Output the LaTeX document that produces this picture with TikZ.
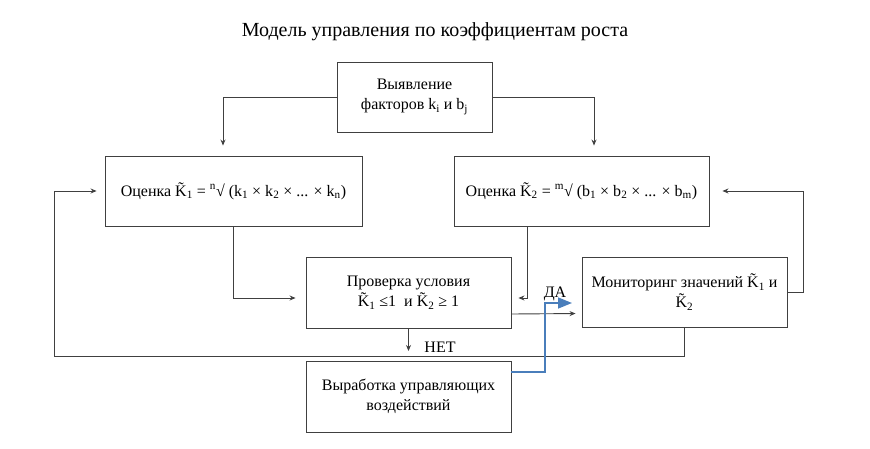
\documentclass[tikz,border=0pt]{standalone}
\usepackage{fontspec}
\setmainfont{Liberation Serif}
\usetikzlibrary{arrows.meta,calc}
\newcommand{\sbs}[1]{\textsubscript{#1}}
\newcommand{\sps}[1]{\textsuperscript{#1}}
\newcommand{\Kt}{\accent"02DC K}
\definecolor{lineclr}{HTML}{404040}
\definecolor{blueclr}{HTML}{4A7EBB}
\tikzset{
  box/.style={draw=lineclr, line width=0.9pt, inner sep=0pt, align=center, font=\fontsize{16}{20}\selectfont},
  conn/.style={draw=lineclr, line width=0.9pt, -{Stealth[length=6pt,width=5pt]}},
  lbl/.style={font=\fontsize{16}{18}\selectfont, inner sep=0pt},
  bluearr/.style={draw=blueclr, line width=1.5pt, -{Triangle[length=14pt,width=11pt]}}
}
\begin{document}
\begin{tikzpicture}[x=1pt,y=-1pt]
\useasboundingbox (0,0) rectangle (870,449);
\node[font=\fontsize{20}{24}\selectfont] (title) at (435,32) {Модель управления по коэффициентам роста};
\node[box, minimum width=155pt, minimum height=70pt] (top) at (414.5,97) {Выявление\\факторов k\sbs{i} и b\sbs{j}};
\node[box, minimum width=257pt, minimum height=70pt] (left) at (233.5,191) {Оценка \Kt\sbs{1} = \sps{n}√ (k\sbs{1} × k\sbs{2} × ... × k\sbs{n})};
\node[box, minimum width=255pt, minimum height=70pt] (right) at (581.5,191) {Оценка \Kt\sbs{2} = \sps{m}√ (b\sbs{1} × b\sbs{2} × ... × b\sbs{m})};
\node[box, minimum width=205pt, minimum height=71pt] (check) at (408.5,292.5) {Проверка условия\\\Kt\sbs{1} ≤1 \ и \Kt\sbs{2} ≥ 1};
\node[box, minimum width=205pt, minimum height=70pt] (monitor) at (684.5,292) {Мониторинг значений \Kt\sbs{1} и\\\Kt\sbs{2}};
\node[box, minimum width=205pt, minimum height=71pt] (bottom) at (408.5,396.5) {Выработка управляющих\\воздействий};
\coordinate (fbBL) at (54,356);
\coordinate (netEnd) at (408.5,351);
\coordinate (bend) at (545,303);
\coordinate (daTip) at (572,303);
\node[lbl] (da) at (555,294) {ДА};
\node[lbl] (net) at (440,347) {НЕТ};
% connectors
\draw[conn, shorten >=10pt] (top.west) -| ([xshift=-10.5pt]left.north);
\draw[conn, shorten >=10pt] (top.east) -| ([xshift=12.5pt]right.north);
\draw[conn, shorten >=10pt] (left.south) |- ([yshift=-5.5pt]check.west);
\draw[conn, shorten >=7pt] ([xshift=-54.5pt]right.south) |- ([yshift=-5.5pt]check.east);
\draw[conn, shorten >=6pt] ([yshift=-21.5pt]check.east) -- ([yshift=-21.5pt]monitor.west);
\draw[conn, shorten >=13pt] (monitor.east) -- ++(16,0) |- (right.east);
\draw[conn, shorten >=8pt] (monitor.south) |- (fbBL) |- (left.west);
\draw[conn] (check.south) -- (netEnd);
\draw[bluearr] ([yshift=24.5pt]bottom.east) -| (bend) -- (daTip);
\end{tikzpicture}
\end{document}
